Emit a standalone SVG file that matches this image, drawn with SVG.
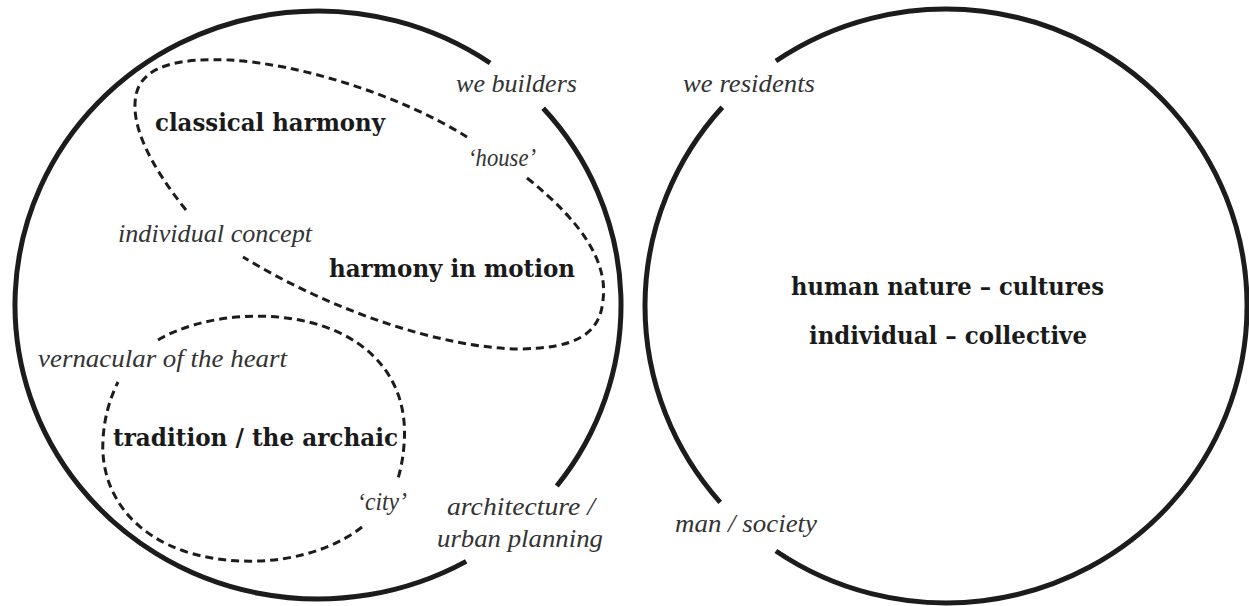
<svg xmlns="http://www.w3.org/2000/svg" width="1249" height="606" viewBox="0 0 1249 606">
<style>
.ring{fill:none;stroke:#1c1c1c;stroke-width:5;stroke-linecap:butt}
.loop{fill:none;stroke:#1c1c1c;stroke-width:3;stroke-dasharray:8 5}
.it{font-family:"Liberation Serif","DejaVu Serif",serif;font-style:italic;font-size:26px;fill:#333}
.bd{font-family:"DejaVu Serif","Liberation Serif",serif;font-weight:bold;font-size:24px;fill:#1a1a1a}
</style>
<rect width="1249" height="606" fill="#fff"/>
<g id="circle-builders">
<path class="ring" d="M466.2,561.4 A303,294 0 1 1 490.1,63.0"/>
<path class="ring" d="M543.2,108.3 A303,294 0 0 1 556.8,486.0"/>
</g>
<g id="circle-residents">
<path class="ring" d="M775.9,61.0 A301,297 0 1 1 775.9,551.0"/>
<path class="ring" d="M720.2,502.4 A301,297 0 0 1 722.3,107.3"/>
</g>
<g id="connectors">
<g id="loop-house">
<path class="loop" d="M186,210 C150,165 130,125 136,95 C142,65 180,58 230,60 C300,64 400,95 467,137"/>
<path class="loop" d="M527,178 C582,222 608,262 603,300 C600,335 575,348 520,349 C440,348 330,310 243,257"/>
</g>
<g id="loop-city">
<path class="loop" d="M158,340 C200,315 280,305 340,333 C390,357 408,400 404,445 C403,460 400,472 397,482"/>
<path class="loop" d="M362,527 C320,560 250,570 190,553 C130,535 100,490 103,440 C104,418 110,398 118,382"/>
</g>
</g>
<g id="labels-builders">
<text class="it" x="456" y="92" textLength="121" lengthAdjust="spacingAndGlyphs">we builders</text>
<text class="it" x="468" y="166" textLength="68" lengthAdjust="spacingAndGlyphs">‘house’</text>
<text class="it" x="118" y="242" textLength="194" lengthAdjust="spacingAndGlyphs">individual concept</text>
<text class="it" x="38" y="367" textLength="249" lengthAdjust="spacingAndGlyphs">vernacular of the heart</text>
<text class="it" x="357" y="510" textLength="50" lengthAdjust="spacingAndGlyphs">‘city’</text>
<text class="it" x="447" y="515" textLength="148" lengthAdjust="spacingAndGlyphs">architecture /</text>
<text class="it" x="437" y="547" textLength="166" lengthAdjust="spacingAndGlyphs">urban planning</text>
</g>
<g id="node-classical">
<text class="bd" x="155" y="131" textLength="230" lengthAdjust="spacingAndGlyphs">classical harmony</text>
</g>
<g id="node-motion">
<text class="bd" x="329" y="277" textLength="246" lengthAdjust="spacingAndGlyphs">harmony in motion</text>
</g>
<g id="node-tradition">
<text class="bd" x="113" y="446" textLength="285" lengthAdjust="spacingAndGlyphs">tradition / the archaic</text>
</g>
<g id="labels-residents">
<text class="it" x="683" y="92" textLength="132" lengthAdjust="spacingAndGlyphs">we residents</text>
<text class="it" x="675" y="532" textLength="142" lengthAdjust="spacingAndGlyphs">man / society</text>
</g>
<g id="node-human">
<text class="bd" x="791" y="295" textLength="313" lengthAdjust="spacingAndGlyphs">human nature – cultures</text>
<text class="bd" x="809" y="344" textLength="278" lengthAdjust="spacingAndGlyphs">individual – collective</text>
</g>
</svg>
